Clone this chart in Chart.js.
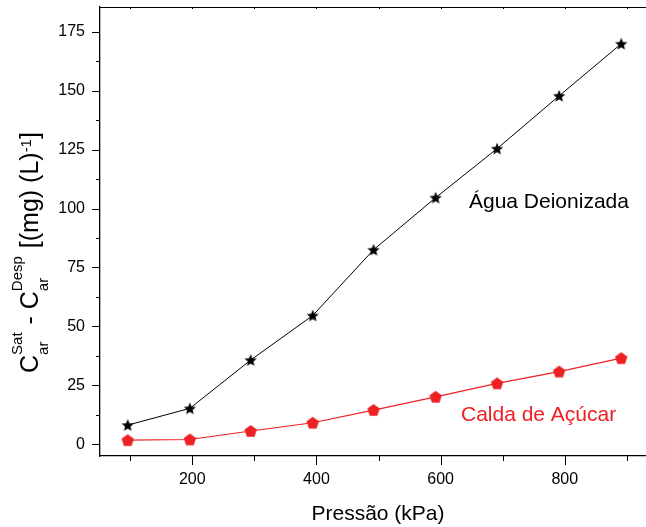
<!DOCTYPE html>
<html>
<head>
<meta charset="utf-8">
<script src="https://cdn.jsdelivr.net/npm/chart.js@4.4.1/dist/chart.umd.min.js"></script>
<style>
  html, body { margin: 0; padding: 0; overflow: hidden; background: #fff; }
  #wrap { width: 700px; height: 527px; }
</style>
</head>
<body>
<div id="wrap"><canvas id="chart" width="700" height="527"></canvas></div>
<script>
// values
var pressao = [96, 196, 294, 394, 492, 592, 691, 791, 891];
var aguaDeionizada = [8.1, 15.2, 35.7, 54.6, 82.5, 104.6, 125.4, 147.8, 169.9];
var caldaAcucar = [1.7, 2.0, 5.6, 9.1, 14.5, 20.1, 25.8, 30.8, 36.5];

var xMajorTicks = [200, 400, 600, 800];
var xMinorTicks = [100, 300, 500, 700, 900];
var yMajorTicks = [0, 25, 50, 75, 100, 125, 150, 175];
var yMinorTicks = [12.5, 37.5, 62.5, 87.5, 112.5, 137.5, 162.5];

var FONT = "'Liberation Sans', Arial, sans-serif";
var RED = "#ed2024";

function pts(xs, ys) {
  return xs.map(function (x, i) { return { x: x, y: ys[i] }; });
}

function makeStar(r, color) {
  var c = document.createElement("canvas");
  var s = Math.ceil(r) * 2 + 2;
  c.width = s; c.height = s;
  var g = c.getContext("2d");
  g.translate(s / 2, s / 2 + 0.5);
  g.beginPath();
  for (var i = 0; i < 10; i++) {
    var rr = i % 2 === 0 ? r : r * 0.45;
    var a = -Math.PI / 2 + i * Math.PI / 5;
    g.lineTo(rr * Math.cos(a), rr * Math.sin(a));
  }
  g.closePath();
  g.fillStyle = color;
  g.fill();
  return c;
}

function makePentagon(r, color) {
  var c = document.createElement("canvas");
  var s = Math.ceil(r) * 2 + 2;
  c.width = s; c.height = s;
  var g = c.getContext("2d");
  g.translate(s / 2, s / 2 + 0.5);
  g.beginPath();
  for (var i = 0; i < 5; i++) {
    var a = -Math.PI / 2 + i * 2 * Math.PI / 5;
    g.lineTo(r * Math.cos(a), r * Math.sin(a));
  }
  g.closePath();
  g.fillStyle = color;
  g.fill();
  return c;
}

var starImg = makeStar(6.4, "#000");
var pentImg = makePentagon(6.5, RED);

function fixedTicks(list) {
  return function (s) { s.ticks = list.map(function (v) { return { value: v }; }); };
}

// tick marks, top frame, titles and the two series labels
var extras = {
  id: "extras",
  afterDraw: function (chart) {
    var ctx = chart.ctx;
    var xs = chart.scales.x, ys = chart.scales.y;
    var a = chart.chartArea;
    ctx.save();
    ctx.strokeStyle = "#000";
    ctx.lineWidth = 1;
    ctx.beginPath();
    ctx.moveTo(a.left, a.top + 0.5);
    ctx.lineTo(a.right, a.top + 0.5);
    xMajorTicks.concat(xMinorTicks).forEach(function (v) {
      var px = Math.round(xs.getPixelForValue(v)) + 0.5;
      var len = xMajorTicks.indexOf(v) >= 0 ? 9 : 5;
      ctx.moveTo(px, a.bottom);
      ctx.lineTo(px, a.bottom + len);
      ctx.moveTo(px, a.top);
      ctx.lineTo(px, a.top + 2);
    });
    yMajorTicks.concat(yMinorTicks).forEach(function (v) {
      var py = Math.round(ys.getPixelForValue(v)) + 0.5;
      var len = yMajorTicks.indexOf(v) >= 0 ? 8 : 4;
      ctx.moveTo(a.left, py);
      ctx.lineTo(a.left - len, py);
    });
    ctx.stroke();

    // x title
    ctx.fillStyle = "#000";
    ctx.font = "21px " + FONT;
    ctx.textAlign = "center";
    ctx.textBaseline = "alphabetic";
    ctx.fillText("Pressão (kPa)", (a.left + a.right) / 2, 520);

    // y title with sub/superscripts
    ctx.save();
    ctx.translate(38, 373);
    ctx.rotate(-Math.PI / 2);
    ctx.textAlign = "left";
    var big = "25px " + FONT, small = "15px " + FONT;
    var x = 0;
    function put(t, f, dy) {
      ctx.font = f;
      ctx.fillText(t, x, dy);
      return ctx.measureText(t).width;
    }
    x += put("C", big, 0);
    var w1 = put("ar", small, 10), w2 = put("Sat", small, -16);
    x += Math.max(w1, w2) + 1;
    x += put(" - ", big, 0);
    x += put("C", big, 0);
    w1 = put("ar", small, 10); w2 = put("Desp", small, -16);
    x += Math.max(w1, w2) + 1;
    x += put(" [(mg) (L)", big, 0);
    x += put("-1", small, -7);
    put("]", big, 0);
    ctx.restore();

    // series labels
    ctx.textAlign = "left";
    ctx.font = "21px " + FONT;
    ctx.fillStyle = "#000";
    ctx.fillText("Água Deionizada", xs.getPixelForValue(645.7), ys.getPixelForValue(100.4));
    ctx.fillStyle = RED;
    ctx.fillText("Calda de Açúcar", xs.getPixelForValue(632.8), ys.getPixelForValue(9.9));
    ctx.restore();
  }
};

new Chart(document.getElementById("chart"), {
  type: "scatter",
  data: {
    datasets: [
      {
        label: "Água Deionizada",
        data: pts(pressao, aguaDeionizada),
        showLine: true,
        borderColor: "#000",
        borderWidth: 1,
        pointStyle: starImg,
        backgroundColor: "#000"
      },
      {
        label: "Calda de Açúcar",
        data: pts(pressao, caldaAcucar),
        showLine: true,
        borderColor: RED,
        borderWidth: 1.2,
        pointStyle: pentImg,
        backgroundColor: RED
      }
    ]
  },
  options: {
    responsive: false,
    animation: false,
    devicePixelRatio: 1,
    layout: { padding: { top: 7, right: 44, bottom: 0, left: 0 } },
    plugins: { legend: { display: false }, tooltip: { enabled: false } },
    scales: {
      x: {
        type: "linear",
        min: 51.3,
        max: 947,
        afterBuildTicks: fixedTicks(xMajorTicks),
        afterFit: function (s) { s.height = 71; s.paddingLeft = 0; s.paddingRight = 0; },
        grid: { display: false, drawTicks: false },
        border: { display: true, color: "#000", width: 1.3 },
        ticks: {
          autoSkip: false,
          maxRotation: 0,
          padding: 14,
          color: "#000",
          font: { family: FONT, size: 16 }
        }
      },
      y: {
        min: -5,
        max: 185.5,
        afterBuildTicks: fixedTicks(yMajorTicks),
        afterFit: function (s) { s.width = 100; s.paddingTop = 0; s.paddingBottom = 0; },
        grid: { display: false, drawTicks: false },
        border: { display: true, color: "#000", width: 1.3 },
        ticks: {
          autoSkip: false,
          padding: 15,
          color: "#000",
          font: { family: FONT, size: 16 }
        }
      }
    }
  },
  plugins: [extras]
});
</script>
</body>
</html>
